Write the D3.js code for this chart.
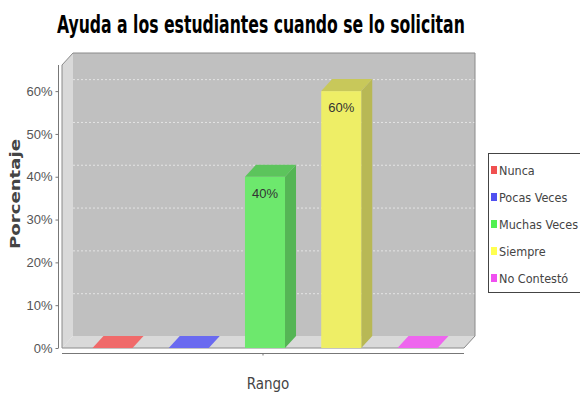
<!DOCTYPE html>
<html><head><meta charset="utf-8">
<script src="https://cdn.jsdelivr.net/npm/d3@7/dist/d3.min.js"></script>
<style>body{margin:0;background:#fff}svg{display:block}</style>
</head><body>
<svg id="c" width="580" height="398"></svg>
<script>
const title = "Ayuda a los estudiantes cuando se lo solicitan";
const series = ["Nunca", "Pocas Veces", "Muchas Veces", "Siempre", "No Contestó"];
const values = [0, 0, 40, 60, 0];
const yTicks = [0, 10, 20, 30, 40, 50, 60];
const category = "Rango";
const yLabel = "Porcentaje";
const colors = ["#f06a6a", "#6a6af0", "#6de86d", "#eeee66", "#ee66ee"];
const topColors = ["#e86a6a", "#6a6ae8", "#5cc45c", "#c8c85a", "#e666e6"];
const sideColors = ["#c05555", "#5555c0", "#55b555", "#b8b855", "#c055c0"];
const legendColors = ["#f05050", "#5050f0", "#50f050", "#ffff50", "#f050f0"];

const svg = d3.select("#c");
const dx = 11, dy = 12;
const X0 = 62, X1 = 464, Y0 = 348, YT = 65;
const y = d3.scaleLinear().domain([0, 66.1]).range([Y0, YT]);
const x = d3.scaleBand().domain(series).range([74.4, 455.6]).paddingInner(0.475).paddingOuter(0.2375);

// Title (scaled horizontally to the reference width)
const tg = svg.append("g");
const tt = tg.append("text").attr("x", 0).attr("y", 0)
  .style("font-family", "'Liberation Sans Narrow','DejaVu Sans Condensed',sans-serif")
  .style("font-weight", "bold").style("font-size", "25px").attr("fill", "#000").text(title);
const tw = tt.node().getComputedTextLength();
tg.attr("transform", `translate(57,33) scale(${408 / tw},1)`);

// walls
const pts = a => a.map(p => p.join(",")).join(" ");
svg.append("polygon").attr("points", pts([[X0+dx, YT-dy],[X1+dx, YT-dy],[X1+dx, Y0-dy],[X0+dx, Y0-dy]])).attr("fill", "#c0c0c0");
svg.append("polygon").attr("points", pts([[X0, YT],[X0+dx, YT-dy],[X0+dx, Y0-dy],[X0, Y0]])).attr("fill", "#d9d9d9");
svg.append("polygon").attr("points", pts([[X0, Y0],[X0+dx, Y0-dy],[X1+dx, Y0-dy],[X1, Y0]])).attr("fill", "#d9d9d9");

// gridlines on back wall
svg.append("g").selectAll("line").data(yTicks.filter(d => d > 0)).join("line")
  .attr("x1", X0+dx).attr("x2", X1+dx)
  .attr("y1", d => y(d) - dy + 0.5).attr("y2", d => y(d) - dy + 0.5)
  .attr("stroke", "#e4e4e4").attr("stroke-width", 1).attr("stroke-dasharray", "2,2");

// outline
svg.append("polygon").attr("points", pts([[X0, YT],[X0+dx, YT-dy],[X1+dx, YT-dy],[X1+dx, Y0-dy],[X1, Y0],[X0, Y0]]))
  .attr("fill", "none").attr("stroke", "#8a8a8a").attr("stroke-width", 1);

// bars
const g = svg.append("g");
series.forEach((s, i) => {
  const v = values[i];
  const bx = x(s), w = x.bandwidth(), ty = y(v);
  if (v > 0) {
    g.append("polygon").attr("points", pts([[bx+w, ty],[bx+w+dx, ty-dy],[bx+w+dx, Y0-dy],[bx+w, Y0]])).attr("fill", sideColors[i]);
    g.append("rect").attr("x", bx).attr("y", ty).attr("width", w).attr("height", Y0 - ty).attr("fill", colors[i]);
  }
  g.append("polygon").attr("points", pts([[bx, ty],[bx+dx, ty-dy],[bx+w+dx, ty-dy],[bx+w, ty]]))
    .attr("fill", v > 0 ? topColors[i] : colors[i]);
  if (v > 0) {
    g.append("text").attr("x", bx + w/2).attr("y", ty + 21).attr("text-anchor", "middle")
      .style("font-family", "'Liberation Sans',sans-serif").style("font-size", "13px").attr("fill", "#333")
      .text(v + "%");
  }
});

// y axis
const yAxis = d3.axisLeft(y).tickValues(yTicks).tickFormat(d => d + "%").tickSize(3).tickPadding(3);
const ya = svg.append("g").attr("transform", "translate(58.5,0)").call(yAxis);
ya.select(".domain").attr("stroke", "#777").attr("d", `M0,${YT}V${Y0}`);
ya.selectAll(".tick line").attr("stroke", "#777");
ya.selectAll("text").style("font-family", "'Liberation Sans',sans-serif").style("font-size", "13px").attr("fill", "#555");

// x axis
const xc = d3.scaleBand().domain([category]).range([X0, X1]);
const xAxis = d3.axisBottom(xc).tickSize(2).tickFormat("");
const xa = svg.append("g").attr("transform", "translate(0,353.5)").call(xAxis);
xa.select(".domain").attr("stroke", "#777").attr("d", `M${X0},0H${X1}`);
xa.selectAll(".tick line").attr("stroke", "#777");

svg.append("text").attr("x", 268).attr("y", 389).attr("text-anchor", "middle")
  .style("font-family", "'DejaVu Sans Condensed','Liberation Sans',sans-serif").style("font-size", "15px").attr("fill", "#444").text(category);

svg.append("text").attr("transform", "translate(20,194) rotate(-90)").attr("text-anchor", "middle")
  .attr("textLength", 110).attr("lengthAdjust", "spacingAndGlyphs")
  .style("font-family", "'DejaVu Sans',sans-serif").style("font-weight", "bold").style("font-size", "14px")
  .attr("fill", "#444").text(yLabel);

// legend
const lg = svg.append("g");
lg.append("rect").attr("x", 488.5).attr("y", 153.5).attr("width", 100).attr("height", 139)
  .attr("fill", "#fff").attr("stroke", "#444");
const ly = d3.scalePoint().domain(series).range([170, 278]);
series.forEach((s, i) => {
  lg.append("rect").attr("x", 491).attr("y", ly(s) - 4).attr("width", 6).attr("height", 8).attr("fill", legendColors[i]);
  lg.append("text").attr("x", 499).attr("y", ly(s) + 5)
    .style("font-family", "'DejaVu Sans Condensed','Liberation Sans',sans-serif").style("font-size", "12.5px").attr("fill", "#444").text(s);
});
</script>
</body></html>
